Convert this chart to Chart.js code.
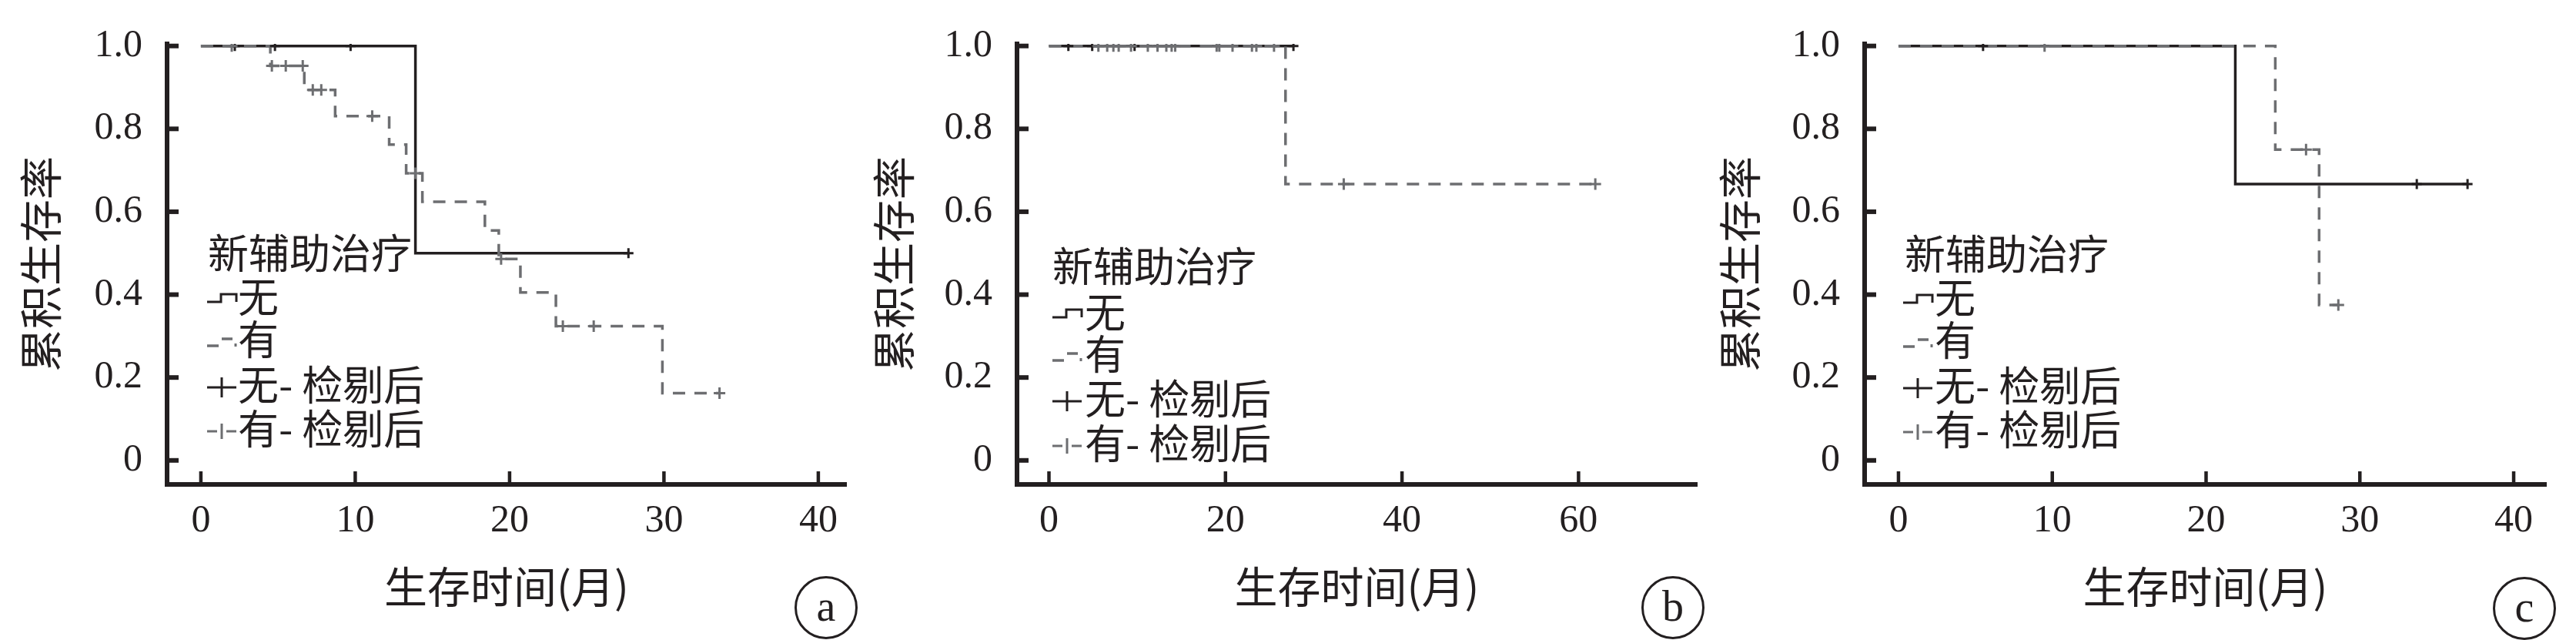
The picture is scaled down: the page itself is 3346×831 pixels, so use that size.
<!DOCTYPE html>
<html><head><meta charset="utf-8">
<script src="https://cdn.jsdelivr.net/npm/chart.js@4.4.1/dist/chart.umd.min.js"></script>
<style>
html,body{margin:0;padding:0;background:#fff;}
#wrap{position:relative;width:3346px;height:831px;overflow:hidden;background:#fff;}
canvas{position:absolute;top:0;}
.lg{position:absolute;font-family:"Noto Sans CJK SC";font-size:53px;color:#231f20;white-space:nowrap;line-height:56px;height:56px;}
.sym{position:absolute;}
.badge{position:absolute;width:76px;height:76px;border:3px solid #231f20;border-radius:50%;font-family:"Liberation Serif";font-size:56px;line-height:72px;text-align:center;color:#231f20;box-sizing:content-box;}
</style></head>
<body><div id="wrap">
<canvas id="ca" width="1115" height="831" style="left:0px"></canvas>
<canvas id="cb" width="1115" height="831" style="left:1115px"></canvas>
<canvas id="cc" width="1116" height="831" style="left:2230px"></canvas>
</div>
<script>
// ---- tick labels ----
const xTicksA = [0, 10, 20, 30, 40];
const xTicksB = [0, 20, 40, 60];
const xTicksC = [0, 10, 20, 30, 40];
const yTicks = [0, 0.2, 0.4, 0.6, 0.8, 1.0];
const yTickLabels = ['0', '0.2', '0.4', '0.6', '0.8', '1.0'];
const legendTitle = '新辅助治疗';
const legendLabels = ['无', '有', '无- 检剔后', '有- 检剔后'];
const yTitle = '累积生存率';
const xTitle = '生存时间(月)';
const panelLetters = ['a', 'b', 'c'];

// ---- panel a ----
const aNoT = [0, 13.9, 27.7];
const aNoS = [1, 0.5, 0.5];
const aNoCensT = [2.2, 4.8, 9.7, 27.7];
const aNoCensS = [1, 1, 1, 0.5];
const aYesT = [0, 4.5, 6.7, 8.7, 12.2, 13.3, 14.35, 18.4, 19.3, 20.7, 23.0, 29.9, 33.6];
const aYesS = [1, 0.952, 0.894, 0.831, 0.762, 0.693, 0.624, 0.555, 0.486, 0.405, 0.324, 0.162, 0.162];
const aYesCensT = [2.0, 4.6, 5.5, 6.6, 7.25, 7.8, 11.1, 13.9, 19.45, 23.45, 25.45, 33.6];
const aYesCensS = [1, 0.952, 0.952, 0.952, 0.894, 0.894, 0.831, 0.693, 0.486, 0.324, 0.324, 0.162];

// ---- panel b ----
const bNoT = [0, 27.7];
const bNoS = [1, 1];
const bNoCensT = [2.2, 4.9, 9.7, 27.7];
const bNoCensS = [1, 1, 1, 1];
const bYesT = [0, 26.8, 61.9];
const bYesS = [1, 0.667, 0.667];
const bYesCensT = [5.6, 6.6, 7.3, 7.9, 9.3, 11.2, 12.3, 13.3, 13.9, 14.3, 19.0, 19.3, 20.8, 23.0, 23.5, 25.5, 33.4, 61.9];
const bYesCensS = [1, 1, 1, 1, 1, 1, 1, 1, 1, 1, 1, 1, 1, 1, 1, 1, 0.667, 0.667];

// ---- panel c ----
const cNoT = [0, 21.9, 37.0];
const cNoS = [1, 0.667, 0.667];
const cNoCensT = [5.5, 33.7, 37.0];
const cNoCensS = [1, 0.667, 0.667];
const cYesT = [0, 24.5, 27.35, 28.6];
const cYesS = [1, 0.75, 0.375, 0.375];
const cYesCensT = [9.5, 26.5, 28.6];
const cYesCensS = [1, 0.75, 0.375];

const BLACK = '#231f20';
const GREY = '#6d6e71';
const SERIF = "'Liberation Serif'";
const CJK = "'Noto Sans CJK SC'";
Chart.defaults.font.family = SERIF;

function pts(T, S) { return T.map((t, i) => ({x: t, y: S[i]})); }

const innerTicks = {
  id: 'innerTicks',
  afterDraw(chart) {
    const ctx = chart.ctx, ca = chart.chartArea;
    const xs = chart.scales.x, ys = chart.scales.y;
    ctx.save();
    ctx.strokeStyle = BLACK;
    ctx.lineCap = 'butt';
    ctx.lineWidth = 6;
    ys.ticks.forEach(t => {
      const y = ys.getPixelForValue(t.value);
      ctx.beginPath(); ctx.moveTo(ca.left, y); ctx.lineTo(ca.left + 15, y); ctx.stroke();
    });
    ctx.lineWidth = 4.5;
    xs.ticks.forEach(t => {
      const x = xs.getPixelForValue(t.value);
      ctx.beginPath(); ctx.moveTo(x, ca.bottom); ctx.lineTo(x, ca.bottom - 17); ctx.stroke();
    });
    ctx.restore();
  }
};

function makeChart(id, p) {
  const datasets = [
    {type: 'line', label: '无', data: pts(p.noT, p.noS), stepped: 'before', borderColor: BLACK, borderWidth: 3.5, pointRadius: 0, fill: false, order: 4},
    {type: 'line', label: '有', data: pts(p.yesT, p.yesS), stepped: 'before', borderColor: GREY, borderWidth: 3.5, borderDash: [16, 12], pointRadius: 0, fill: false, order: 3},
    {type: 'scatter', label: '无-检剔后', data: pts(p.noCT, p.noCS), pointStyle: 'cross', pointRadius: 6.5, pointBorderWidth: 3, borderColor: BLACK, backgroundColor: BLACK, order: 2},
    {type: 'scatter', label: '有-检剔后', data: pts(p.yesCT, p.yesCS), pointStyle: 'cross', pointRadius: 7.5, pointBorderWidth: 3, borderColor: GREY, backgroundColor: GREY, order: 1}
  ];
  return new Chart(document.getElementById(id), {
    type: 'line',
    data: {datasets},
    plugins: [innerTicks],
    options: {
      responsive: false, animation: false, devicePixelRatio: 1,
      layout: {padding: {left: 0, right: p.padR, top: 26, bottom: 0}},
      plugins: {legend: {display: false}, tooltip: {enabled: false}},
      scales: {
        x: {
          type: 'linear', min: p.xMin, max: p.xMax,
          afterBuildTicks: s => { s.ticks = p.xTicks.map(v => ({value: v})); },
          afterFit: s => { s.height = 202; },
          grid: {display: true, drawOnChartArea: false, drawTicks: false},
          border: {display: true, color: BLACK, width: 6},
          ticks: {color: BLACK, padding: 23, maxRotation: 0, autoSkip: false,
                  font: {family: SERIF, size: 50, lineHeight: 1}, callback: v => String(v)},
          title: {display: true, text: xTitle, color: BLACK,
                  font: {family: CJK, size: 56, lineHeight: 1}, padding: {top: 0, bottom: 41}}
        },
        y: {
          type: 'linear', min: -0.058, max: 1.005,
          afterBuildTicks: s => { s.ticks = yTicks.map(v => ({value: v})); },
          afterFit: s => { s.width = p.yW; },
          grid: {display: true, drawOnChartArea: false, drawTicks: false},
          border: {display: true, color: BLACK, width: 6},
          ticks: {color: BLACK, padding: 32, autoSkip: false,
                  font: {family: SERIF, size: 50, lineHeight: 1}, callback: (v, i) => yTickLabels[i]},
          title: {display: true, text: yTitle, color: BLACK,
                  font: {family: CJK, size: 56, lineHeight: 1}, padding: {top: p.yTitlePad, bottom: 0}}
        }
      }
    }
  });
}

makeChart('ca', {noT: aNoT, noS: aNoS, yesT: aYesT, yesS: aYesS, noCT: aNoCensT, noCS: aNoCensS, yesCT: aYesCensT, yesCS: aYesCensS,
  xTicks: xTicksA, xMin: -2.19, xMax: 41.8, yW: 217, padR: 16, yTitlePad: 25});
makeChart('cb', {noT: bNoT, noS: bNoS, yesT: bYesT, yesS: bYesS, noCT: bNoCensT, noCS: bNoCensS, yesCT: bYesCensT, yesCS: bYesCensS,
  xTicks: xTicksB, xMin: -3.62, xMax: 73.4, yW: 206, padR: 26, yTitlePad: 18});
makeChart('cc', {noT: cNoT, noS: cNoS, yesT: cYesT, yesS: cYesS, noCT: cNoCensT, noCS: cNoCensS, yesCT: cYesCensT, yesCS: cYesCensS,
  xTicks: xTicksC, xMin: -2.2, xMax: 42.1, yW: 192, padR: 39, yTitlePad: 2});

// ---- legends (HTML text) ----
const wrap = document.getElementById('wrap');
const NS = 'http://www.w3.org/2000/svg';
function svgEl(tag, attrs) { const e = document.createElementNS(NS, tag); for (const k in attrs) e.setAttribute(k, attrs[k]); return e; }
function symbol(kind) {
  const s = svgEl('svg', {width: 42, height: 40, viewBox: '0 0 42 40'});
  s.classList.add('sym');
  if (kind === 0) {
    s.appendChild(svgEl('path', {d: 'M0 26 H18 V16 H38 V26', fill: 'none', stroke: BLACK, 'stroke-width': 3}));
  } else if (kind === 1) {
    s.appendChild(svgEl('path', {d: 'M0 28 H15', stroke: GREY, 'stroke-width': 3.5}));
    s.appendChild(svgEl('path', {d: 'M19 19 H33', stroke: GREY, 'stroke-width': 3.5}));
    s.appendChild(svgEl('path', {d: 'M37 25 V29', stroke: GREY, 'stroke-width': 3}));
  } else if (kind === 2) {
    s.appendChild(svgEl('path', {d: 'M0 23 H38 M19 10 V36', stroke: BLACK, 'stroke-width': 3}));
  } else {
    s.appendChild(svgEl('path', {d: 'M0 23 H13 M25 23 H38 M19 13 V33', stroke: GREY, 'stroke-width': 3}));
  }
  return s;
}
function legend(symX, textX, titleX, rows) {
  const t = document.createElement('div');
  t.className = 'lg'; t.textContent = legendTitle;
  t.style.left = titleX + 'px'; t.style.top = (rows[0] - 31) + 'px';
  wrap.appendChild(t);
  legendLabels.forEach((lab, i) => {
    const cy = rows[i + 1];
    const s = symbol(i);
    s.style.left = symX + 'px'; s.style.top = (cy - 20) + 'px';
    wrap.appendChild(s);
    const d = document.createElement('div');
    d.className = 'lg'; d.textContent = lab;
    d.style.left = textX + 'px'; d.style.top = (cy - 31) + 'px';
    wrap.appendChild(d);
  });
}
legend(269, 309, 270, [329, 386, 441, 500, 557]);
legend(1367, 1409, 1367, [346, 406, 460, 518, 576]);
legend(2472, 2513, 2474, [330, 387, 442, 501, 558]);

// ---- panel letters ----
[[1073, 789], [2173, 789], [3279, 790]].forEach((c, i) => {
  const b = document.createElement('div');
  b.className = 'badge'; b.textContent = panelLetters[i];
  b.style.left = (c[0] - 41) + 'px'; b.style.top = (c[1] - 41) + 'px';
  wrap.appendChild(b);
});
</script>
</body></html>
